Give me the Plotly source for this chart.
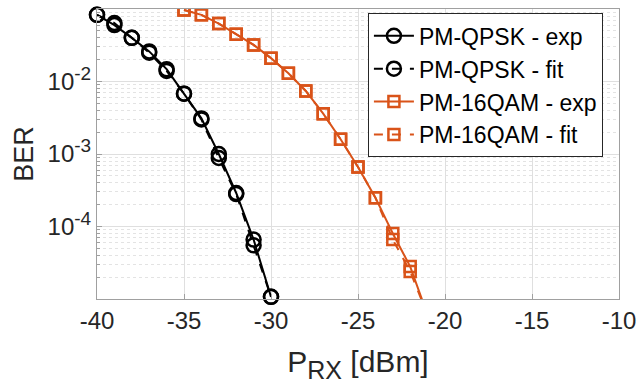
import plotly.graph_objects as go

# Data
qpsk_x = [-40, -39, -38, -37, -36, -35, -34, -33, -32, -31, -30]
qpsk_exp = [0.083, 0.060, 0.040, 0.026, 0.0148, 0.0068, 0.0031, 0.00100, 0.00029, 6.6e-5, 1.07e-5]
qpsk_fit = [0.083, 0.064, 0.040, 0.025, 0.0140, 0.0068, 0.0030, 0.00088, 0.00028, 5.5e-5, 1.07e-5]

qam_x = [-35, -34, -33, -32, -31, -30, -29, -28, -27, -26, -25, -24, -23, -22, -21]
qam_exp = [0.097, 0.083, 0.063, 0.045, 0.032, 0.021, 0.013, 0.0074, 0.0036, 0.0016, 6.6e-4, 2.5e-4, 8.0e-5, 2.8e-5, 6e-6]
qam_fit = [0.097, 0.083, 0.063, 0.045, 0.032, 0.021, 0.013, 0.0074, 0.0036, 0.0016, 6.6e-4, 2.5e-4, 6.6e-5, 2.4e-5, 6e-6]

x_ticks = [-40, -35, -30, -25, -20, -15, -10]
y_ticks = [1e-5, 1e-4, 1e-3, 1e-2, 1e-1]
y_ticktext = ["",
              "10<sup><span style='font-size:19px'>-4</span></sup>",
              "10<sup><span style='font-size:19px'>-3</span></sup>",
              "10<sup><span style='font-size:19px'>-2</span></sup>",
              ""]

BLACK = "#000000"
ORANGE = "#D95319"
FONT = "Liberation Sans, Arial, sans-serif"

fig = go.Figure()
series = [
    ("PM-QPSK - exp", qpsk_x, qpsk_exp, BLACK, "solid", "circle-open", 14, False),
    ("PM-QPSK - fit", qpsk_x, qpsk_fit, BLACK, "dash", "circle-open", 14, False),
    ("PM-16QAM - exp", qam_x, qam_exp, ORANGE, "solid", "square-open", 11, True),
    ("PM-16QAM - fit", qam_x, qam_fit, ORANGE, "dash", "square-open", 11, True),
]
for name, xs, ys, col, dash, sym, size, clip in series:
    fig.add_trace(go.Scatter(
        x=xs, y=ys, name=name, mode="lines+markers",
        line=dict(color=col, width=2, dash=dash),
        marker=dict(symbol=sym, size=size, color=col, line=dict(color=col, width=2.5)),
        cliponaxis=clip,
    ))

fig.update_layout(
    width=644, height=392,
    margin=dict(l=97, r=23, t=8, b=93),
    paper_bgcolor="white", plot_bgcolor="white",
    font=dict(family=FONT, color="#262626", size=24),
    showlegend=True,
    legend=dict(
        x=0.519, y=0.985, xanchor="left", yanchor="top",
        bgcolor="white", bordercolor="#262626", borderwidth=1,
        font=dict(size=23, color="#000000", family=FONT),
        itemwidth=40, tracegroupgap=0,
    ),
)
fig.update_xaxes(
    range=[-40, -10], tickvals=x_ticks, ticktext=[str(v) for v in x_ticks],
    showgrid=True, gridcolor="#DFDFDF", gridwidth=1,
    showline=True, linecolor="#A0A0A0", linewidth=1, mirror=True,
    ticks="inside", ticklen=5, tickcolor="#A0A0A0",
    zeroline=False,
    title=dict(text="P<sub><span style='font-size:25px'>RX</span></sub> [dBm]",
               font=dict(size=30, color="#262626"), standoff=18),
    tickfont=dict(size=24, color="#262626"),
)
fig.update_yaxes(
    type="log", range=[-5, -1], tickmode="array", tickvals=y_ticks, ticktext=y_ticktext,
    showgrid=True, gridcolor="#DFDFDF", gridwidth=1,
    showline=True, linecolor="#A0A0A0", linewidth=1, mirror=True,
    ticks="inside", ticklen=5, tickcolor="#A0A0A0",
    minor=dict(dtick="D1", showgrid=True, gridcolor="#E3E3E3", griddash="dot",
               ticks="inside", ticklen=3, tickcolor="#A0A0A0"),
    zeroline=False,
    title=dict(text="BER", font=dict(size=27, color="#262626"), standoff=6),
    tickfont=dict(size=24, color="#262626"),
)

fig.write_html("out.html")
